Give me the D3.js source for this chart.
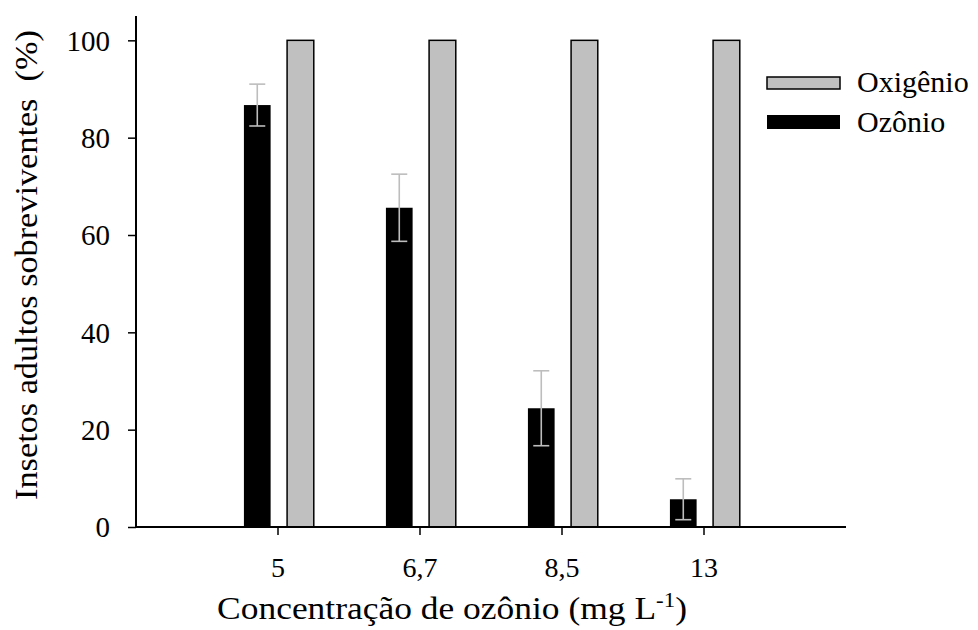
<!DOCTYPE html>
<html>
<head>
<meta charset="utf-8">
<script src="https://cdn.jsdelivr.net/npm/d3@7"></script>
</head>
<body style="margin:0">
<svg id="chart" width="978" height="630" font-family="Liberation Serif"></svg>
<script>
const categories = ["5", "6,7", "8,5", "13"];
const ozonio = [86.7, 65.6, 24.4, 5.7];
const ozonioErr = [4.3, 6.9, 7.7, 4.2];
const oxigenio = [100, 100, 100, 100];
const yTicks = [0, 20, 40, 60, 80, 100];
const seriesNames = ["Oxigênio", "Ozônio"];

const FONT = '"Liberation Serif"';
const svg = d3.select("#chart");
const x0 = 136, x1 = 846, yBottom = 527, yTop = 16;

const x = d3.scaleBand().domain(categories).range([x0, x1]).paddingInner(0).paddingOuter(0.5);
const y = d3.scaleLinear().domain([0, 105]).range([yBottom, yTop]);
const step = x.step();
const barW = step * 0.188;
const center = c => x(c) + x.bandwidth() / 2;

// Oxygen bars
svg.append("g").selectAll("rect").data(categories).join("rect")
  .attr("x", c => center(c) + step * 0.064)
  .attr("width", barW)
  .attr("y", (c, i) => y(oxigenio[i]))
  .attr("height", (c, i) => y(0) - y(oxigenio[i]))
  .attr("fill", "#c0c0c0").attr("stroke", "#000").attr("stroke-width", 1.5);

// Ozone bars
svg.append("g").selectAll("rect").data(categories).join("rect")
  .attr("x", c => center(c) - step * 0.24)
  .attr("width", barW)
  .attr("y", (c, i) => y(ozonio[i]))
  .attr("height", (c, i) => y(0) - y(ozonio[i]))
  .attr("fill", "#000");

// Error bars
const eg = svg.append("g").attr("stroke", "#bdbdbd").attr("stroke-width", 1.6).attr("fill", "none");
categories.forEach((c, i) => {
  const cx = center(c) - step * 0.24 + barW / 2;
  const top = y(ozonio[i] + ozonioErr[i]), bot = y(ozonio[i] - ozonioErr[i]);
  eg.append("line").attr("x1", cx).attr("x2", cx).attr("y1", top).attr("y2", bot);
  eg.append("line").attr("x1", cx - 8).attr("x2", cx + 8).attr("y1", top).attr("y2", top);
  eg.append("line").attr("x1", cx - 8).attr("x2", cx + 8).attr("y1", bot).attr("y2", bot);
});

// Axes
const yAxis = d3.axisLeft(y).tickValues(yTicks).tickSize(8).tickSizeOuter(0).tickPadding(18);
const gy = svg.append("g").attr("transform", `translate(${x0},0)`).call(yAxis);
gy.attr("font-family", "Liberation Serif").attr("font-size", 29);
gy.select(".domain").attr("stroke-width", 2).attr("d", `M0,${yBottom}V${yTop}`);
gy.selectAll(".tick line").attr("stroke-width", 1.5);
gy.selectAll(".tick text").attr("dy", "0.34em").attr("fill", "#000");

const xAxis = d3.axisBottom(x).tickSize(8).tickSizeOuter(0).tickPadding(22);
const gx = svg.append("g").attr("transform", `translate(0,${yBottom})`).call(xAxis);
gx.attr("font-family", "Liberation Serif").attr("font-size", 28);
gx.select(".domain").attr("stroke-width", 2).attr("d", `M${x0},0H${x1}`);
gx.selectAll(".tick line").attr("stroke-width", 1.5);
gx.selectAll(".tick text").attr("dy", "0.71em").attr("fill", "#000");

// helper: stretch a text horizontally (in its own frame) to a target length
function fitText(sel, target) {
  const w = sel.node().getBBox().width;
  return w > 0 ? target / w : 1;
}

// X axis title
const xtG = svg.append("g");
const xt = xtG.append("text").attr("x", 0).attr("y", 0).attr("text-anchor", "middle")
  .style("font-family", FONT).style("font-size", "31px");
xt.append("tspan").text("Concentração de ozônio (mg L");
xt.append("tspan").attr("dy", -12).style("font-size", "20px").text("-1");
xt.append("tspan").attr("dy", 12).text(")");
const sx = fitText(xt, 470);
xtG.attr("transform", `translate(452,619) scale(${sx},1)`);

// Y axis title
const ytG = svg.append("g");
const yt = ytG.append("text").attr("text-anchor", "middle")
  .style("font-family", FONT).style("font-size", "31px").style("white-space", "pre")
  .text("Insetos adultos sobreviventes  (%)");
const sy = fitText(yt, 470);
ytG.attr("transform", `translate(37,265) rotate(-90) scale(${sy},1)`);

// Legend
const lg = svg.append("g");
lg.append("rect").attr("x", 767).attr("y", 77).attr("width", 73).attr("height", 12)
  .attr("fill", "#c0c0c0").attr("stroke", "#000").attr("stroke-width", 1.5);
lg.append("rect").attr("x", 767).attr("y", 115).attr("width", 73).attr("height", 14).attr("fill", "#000");
lg.append("text").attr("x", 857).attr("y", 92).style("font-family", FONT).style("font-size", "30px").text(seriesNames[0]);
lg.append("text").attr("x", 857).attr("y", 132).style("font-family", FONT).style("font-size", "30px").text(seriesNames[1]);
</script>
</body>
</html>
